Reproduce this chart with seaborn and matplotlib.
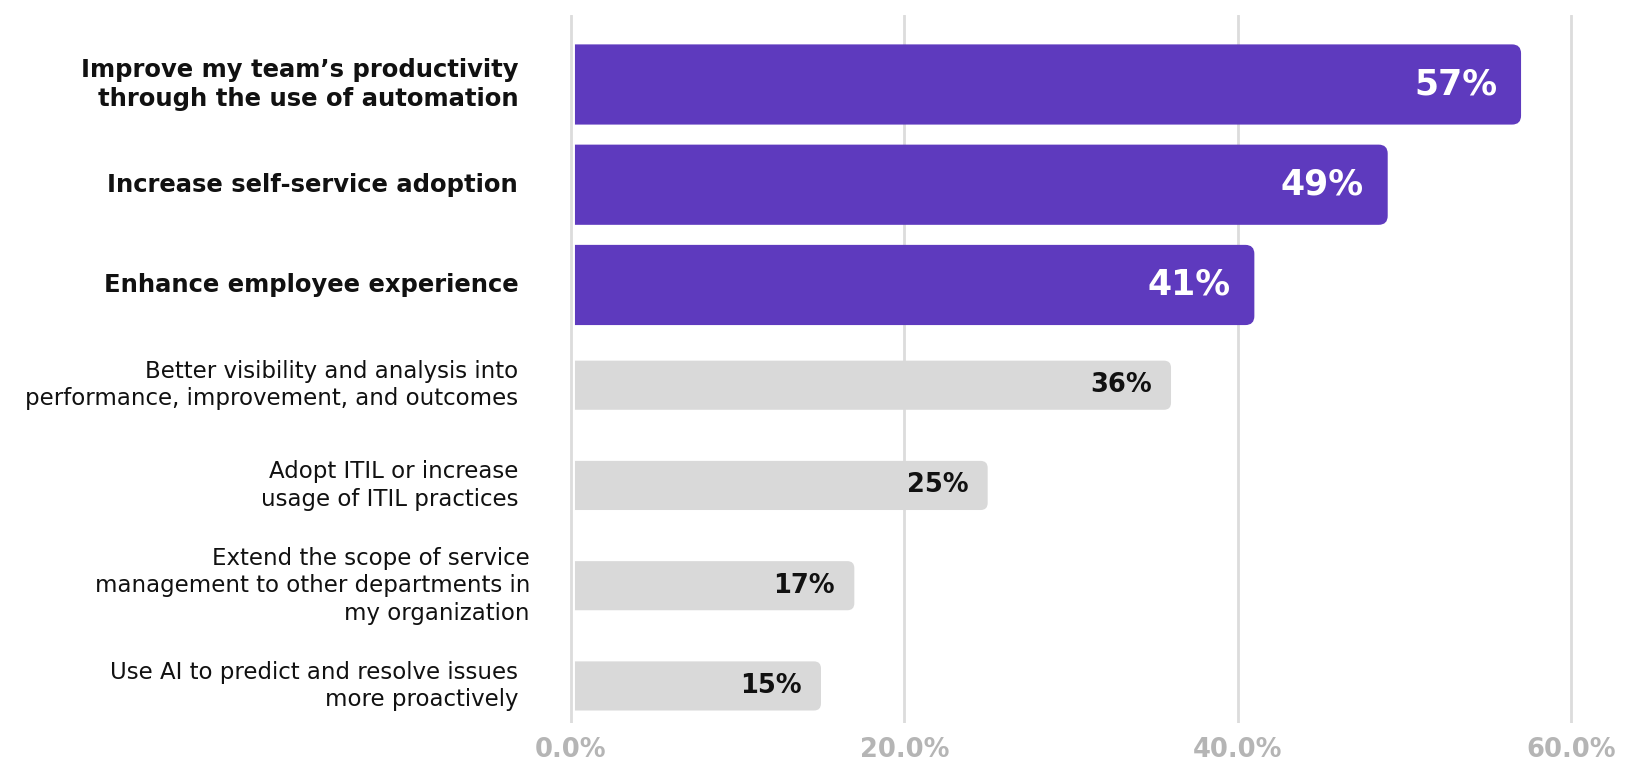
import matplotlib
matplotlib.use("Agg")
import matplotlib.pyplot as plt
import pandas as pd
import seaborn as sns
from matplotlib.patches import PathPatch
from matplotlib.path import Path

# ---- data -------------------------------------------------------------
categories = [
    "Improve my team’s productivity\nthrough the use of automation",
    "Increase self-service adoption",
    "Enhance employee experience",
    "Better visibility and analysis into\nperformance, improvement, and outcomes",
    "Adopt ITIL or increase\nusage of ITIL practices",
    "Extend the scope of service\nmanagement to other departments in\nmy organization",
    "Use AI to predict and resolve issues\nmore proactively",
]
values = [57, 49, 41, 36, 25, 17, 15]
highlighted = [True, True, True, False, False, False, False]
x_ticks = [0, 20, 40, 60]
x_tick_labels = ["0.0%", "20.0%", "40.0%", "60.0%"]

# ---- style --------------------------------------------------------------
PURPLE = "#5E3ABE"
GRAY = "#D9D9D9"
GRID = "#DCDCDC"
TICK_GRAY = "#B5B5B5"
TEXT = "#111111"

sns.set_theme(style="white")
plt.rcParams["font.family"] = ["DejaVu Sans"]

df = pd.DataFrame({"category": categories, "value": values, "highlighted": highlighted})

fig = plt.figure(figsize=(16.37, 7.70), dpi=100)
ax = fig.add_axes([0.3386, 0.061, 0.6313, 0.9195])

sns.barplot(data=df[df["highlighted"]], x="value", y="category", order=categories,
            color=PURPLE, saturation=1, width=0.8, errorbar=None, ax=ax)
sns.barplot(data=df[~df["highlighted"]], x="value", y="category", order=categories,
            color=GRAY, saturation=1, width=0.49, errorbar=None, ax=ax)

ax.set_xlim(-1, 61)
ax.set_ylim(6.37, -0.693)


def right_rounded_path(x0, x1, ya, yb, rx, ry):
    """Bar outline with square left end and rounded right-hand corners."""
    y_lo, y_hi = min(ya, yb), max(ya, yb)
    verts = [
        (x0, y_lo), (x1 - rx, y_lo), (x1, y_lo), (x1, y_lo + ry),
        (x1, y_hi - ry), (x1, y_hi), (x1 - rx, y_hi),
        (x0, y_hi), (x0, y_lo),
    ]
    codes = [
        Path.MOVETO, Path.LINETO, Path.CURVE3, Path.CURVE3,
        Path.LINETO, Path.CURVE3, Path.CURVE3,
        Path.LINETO, Path.CLOSEPOLY,
    ]
    return Path(verts, codes)


# replace the plain rectangles with right-rounded bars
fig.canvas.draw()
bbox = ax.get_window_extent()
px_x = bbox.width / (61 - (-1))
px_y = bbox.height / (6.37 + 0.693)
left_gap = 4 / px_x
for p in list(ax.patches):
    x0, y0 = p.get_xy()
    w, h = p.get_width(), p.get_height()
    fc = p.get_facecolor()
    radius_px = 9 if abs(h) > 0.6 else 7
    p.remove()
    path = right_rounded_path(x0 + left_gap, x0 + w, y0, y0 + h,
                              radius_px / px_x, radius_px / px_y)
    ax.add_patch(PathPatch(path, fc=fc, ec="none", lw=0, zorder=2))

# grid and axes
ax.set_xticks(x_ticks)
ax.set_xticklabels(x_tick_labels, color=TICK_GRAY, fontweight="bold", fontsize=18.5)
ax.xaxis.grid(True, color=GRID, linewidth=2)
ax.set_axisbelow(True)
ax.tick_params(axis="x", length=0, pad=10)
ax.set_yticks(range(len(categories)))
ax.set_yticklabels([])
ax.tick_params(axis="y", length=0)
ax.set_xlabel("")
ax.set_ylabel("")
for s in ax.spines.values():
    s.set_visible(False)

# category labels, right aligned left of the zero line
label_offsets = [-38, -38, -38, -38, -38, -29.5, -38]
for i, (cat, hl) in enumerate(zip(categories, highlighted)):
    ax.annotate(cat, xy=(0, i), xytext=(label_offsets[i], 0), textcoords="offset points",
                ha="right", va="center", multialignment="right",
                fontsize=17.5 if hl else 16.5, fontweight="bold" if hl else "normal",
                color=TEXT, linespacing=1.25, annotation_clip=False)

# value labels inside the bar ends
for i, (v, hl) in enumerate(zip(values, highlighted)):
    ax.annotate(f"{v}%", xy=(v, i), xytext=(-17 if hl else -14, 0), textcoords="offset points",
                ha="right", va="center", fontweight="bold",
                fontsize=25 if hl else 18.5, color="white" if hl else TEXT, zorder=3)

fig.savefig("out.png", dpi=100)
